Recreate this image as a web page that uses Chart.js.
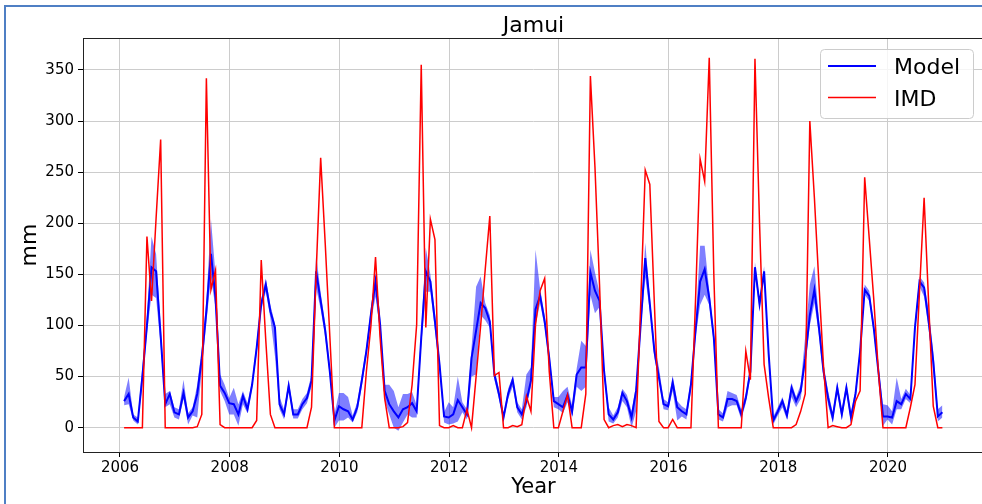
<!DOCTYPE html>
<html>
<head>
<meta charset="utf-8">
<title>Jamui</title>
<script src="https://cdn.jsdelivr.net/npm/chart.js@4.4.0/dist/chart.umd.min.js"></script>
<style>
  html, body { margin: 0; padding: 0; background: #fff; overflow: hidden; }
  #wrap { position: relative; width: 982px; height: 504px; overflow: hidden; }
  #chart { position: absolute; left: 0; top: 0; }
  #frame { position: absolute; left: 4px; top: 5px; width: 1100px; height: 700px;
           border: 2px solid #4f7fc4; box-sizing: border-box; pointer-events: none; }
</style>
</head>
<body>
<div id="wrap">
  <canvas id="chart" width="986" height="504"></canvas>
  <div id="frame"></div>
</div>
<script>
// monthly series, Jan 2006 .. Dec 2020 (one row per year)
const startYear = 2006;

const imd = [
  0, 0, 0, 0, 0, 187, 124, 205, 282, 0, 0, 0,
  0, 0, 0, 0, 1, 13, 342, 135, 154, 3, 0, 0,
  0, 0, 0, 0, 0, 7, 164, 85, 13, 0, 0, 0,
  0, 0, 0, 0, 0, 20, 150, 264, 180, 90, 0, 0,
  0, 0, 0, 0, 0, 55, 100, 167, 88, 29, 0, 0,
  0, 1, 5, 42, 101, 355, 98, 204, 184, 2, 0, 0,
  2, 0, 0, 18, 0, 50, 100, 155, 207, 51, 54, 0,
  0, 2, 1, 3, 31, 16, 101, 134, 146, 55, 0, 0,
  16, 32, 0, 0, 0, 33, 344, 255, 140, 8, 0, 2,
  3, 1, 3, 2, 0, 120, 252, 238, 121, 6, 0, 0,
  8, 0, 0, 0, 0, 125, 263, 241, 362, 150, 0, 0,
  0, 0, 0, 0, 75, 47, 361, 200, 62, 29, 0, 0,
  0, 0, 0, 3, 16, 33, 300, 225, 140, 60, 0, 2,
  1, 0, 0, 3, 26, 36, 245, 185, 125, 55, 0, 0,
  0, 0, 0, 0, 20, 42, 134, 225, 121, 21, 0, 0
];

const model = [
  26, 33, 10, 6, 50, 100, 157, 153, 90, 23, 33, 15,
  13, 34, 10, 16, 33, 68, 114, 170, 127, 41, 34, 24,
  23, 13, 31, 18, 42, 78, 121, 140, 114, 98, 23, 13,
  41, 13, 13, 23, 29, 46, 153, 124, 95, 55, 7, 21,
  18, 16, 8, 20, 46, 75, 111, 143, 101, 36, 23, 16,
  10, 18, 20, 24, 16, 88, 153, 143, 104, 62, 11, 10,
  13, 27, 20, 13, 68, 95, 122, 117, 104, 52, 33, 10,
  33, 47, 20, 13, 26, 46, 116, 129, 104, 68, 26, 23,
  20, 32, 16, 52, 59, 59, 152, 134, 124, 55, 13, 8,
  15, 34, 26, 10, 36, 101, 166, 121, 75, 49, 23, 21,
  44, 20, 16, 13, 42, 95, 143, 155, 127, 88, 13, 10,
  28, 28, 26, 13, 29, 55, 157, 121, 153, 72, 7, 16,
  26, 12, 39, 26, 36, 68, 110, 135, 98, 55, 29, 10,
  39, 13, 39, 10, 33, 75, 135, 129, 97, 55, 11, 11,
  10, 26, 23, 33, 28, 98, 143, 137, 104, 65, 11, 15
];

const modelLow = [
  22, 23, 7, 3, 42, 92, 130, 127, 80, 20, 23, 10,
  8, 28, 3, 12, 10, 56, 103, 147, 117, 36, 26, 13,
  13, 2, 23, 14, 38, 72, 115, 133, 107, 70, 18, 8,
  36, 9, 9, 18, 24, 40, 137, 116, 88, 50, 0, 7,
  7, 10, 5, 15, 40, 70, 104, 128, 94, 26, 13, 0,
  -3, 5, 13, 10, 10, 80, 133, 133, 95, 55, 5, 3,
  4, 6, 15, 8, 50, 52, 110, 105, 98, 47, 28, 7,
  28, 40, 15, 8, 20, 40, 100, 122, 98, 62, 20, 18,
  14, 25, 10, 40, 36, 40, 130, 112, 118, 50, 6, 4,
  10, 26, 20, 0, 16, 95, 147, 114, 68, 45, 18, 17,
  36, 7, 11, 8, 36, 88, 120, 130, 120, 82, 8, 6,
  20, 22, 22, 8, 24, 50, 150, 116, 148, 66, 3, 12,
  20, 8, 30, 20, 28, 62, 100, 122, 90, 48, 22, 5,
  34, 8, 34, 5, 28, 70, 130, 124, 92, 50, 2, 8,
  3, 18, 18, 28, 24, 92, 138, 128, 96, 55, 6, 10
];

const modelHigh = [
  30, 49, 13, 10, 60, 110, 187, 170, 100, 33, 36, 20,
  18, 47, 14, 20, 42, 78, 124, 204, 150, 52, 42, 29,
  39, 23, 36, 24, 46, 84, 126, 146, 120, 102, 30, 18,
  46, 18, 18, 28, 34, 52, 170, 132, 102, 60, 13, 34,
  34, 30, 12, 25, 52, 80, 118, 150, 108, 42, 42, 36,
  20, 33, 33, 35, 22, 96, 176, 150, 112, 68, 15, 25,
  20, 50, 25, 18, 78, 138, 148, 122, 110, 57, 38, 13,
  38, 50, 25, 18, 52, 59, 174, 136, 110, 74, 30, 30,
  36, 40, 22, 58, 85, 80, 174, 152, 132, 60, 20, 12,
  20, 38, 32, 16, 42, 108, 181, 128, 82, 59, 28, 25,
  51, 26, 21, 18, 48, 102, 178, 178, 134, 94, 18, 14,
  36, 34, 32, 18, 34, 60, 162, 126, 158, 78, 11, 20,
  30, 16, 44, 30, 42, 90, 140, 158, 106, 62, 36, 15,
  44, 18, 44, 15, 38, 80, 140, 134, 102, 60, 23, 22,
  16, 49, 28, 38, 32, 104, 148, 142, 115, 75, 18, 22
];

const xTicks = [2006, 2008, 2010, 2012, 2014, 2016, 2018, 2020];
const yTicks = [0, 50, 100, 150, 200, 250, 300, 350];

const family = '"DejaVu Sans", sans-serif';
const months = model.map((_, i) => startYear + (i + 0.9) / 12);
const pts = arr => arr.map((v, i) => ({ x: months[i], y: v }));

// draws the top/right spines and the boxed legend inside the plot
const boxAndLegend = {
  id: 'boxAndLegend',
  afterDatasetsDraw(chart) {
    const { ctx, chartArea: a } = chart;
    ctx.save();
    ctx.strokeStyle = '#222';
    ctx.lineWidth = 1;
    ctx.strokeRect(a.left + 0.5, a.top + 0.5, a.right - a.left, a.bottom - a.top);
    ctx.restore();
  },
  afterDraw(chart) {
    const { ctx, chartArea: a } = chart;
    const lx = a.right - 164, ly = a.top + 11;
    ctx.save();
    ctx.fillStyle = 'rgba(255,255,255,0.8)';
    ctx.strokeStyle = '#cccccc';
    ctx.lineWidth = 1;
    ctx.beginPath();
    ctx.roundRect(lx + 0.5, ly + 0.5, 153, 69, 4);
    ctx.fill();
    ctx.stroke();
    const items = chart.data.datasets.filter(d => d.showInLegend);
    items.forEach((d, i) => {
      const y = ly + 17 + i * 31.5;
      ctx.strokeStyle = d.borderColor;
      ctx.lineWidth = d.borderWidth;
      ctx.beginPath();
      ctx.moveTo(lx + 8, y);
      ctx.lineTo(lx + 56, y);
      ctx.stroke();
      ctx.fillStyle = '#000';
      ctx.font = '22px ' + family;
      ctx.textBaseline = 'alphabetic';
      ctx.fillText(d.label, lx + 74, y + 8);
    });
    ctx.restore();
  }
};

new Chart(document.getElementById('chart'), {
  type: 'line',
  data: {
    datasets: [
      { label: 'low', data: pts(modelLow), borderWidth: 0, pointRadius: 0, fill: false, order: 2 },
      { label: 'high', data: pts(modelHigh), borderWidth: 0, pointRadius: 0,
        fill: '-1', backgroundColor: 'rgba(0,0,255,0.5)', order: 2 },
      { label: 'Model', data: pts(model), borderColor: '#0000ff', borderWidth: 2,
        pointRadius: 0, tension: 0, fill: false, order: 1, showInLegend: true },
      { label: 'IMD', data: pts(imd), borderColor: '#ff0000', borderWidth: 1.5,
        pointRadius: 0, tension: 0, fill: false, order: 0, showInLegend: true }
    ]
  },
  options: {
    responsive: false,
    animation: false,
    devicePixelRatio: 1,
    layout: { padding: { left: 0, top: 0, right: 2, bottom: 0 } },
    plugins: {
      legend: { display: false },
      tooltip: { enabled: false },
      title: {
        display: true, text: 'Jamui', fullSize: false, color: '#000',
        font: { family, size: 22, weight: 'normal', lineHeight: 1 },
        padding: { top: 15, bottom: 1 }
      }
    },
    scales: {
      x: {
        type: 'linear', min: 2005.326, max: 2021.75,
        afterBuildTicks: s => { s.ticks = xTicks.map(v => ({ value: v })); },
        afterFit: s => { s.height = 52; },
        ticks: { color: '#000', font: { family, size: 15 }, padding: 2,
                 maxRotation: 0, autoSkip: false, callback: v => String(v) },
        grid: { color: '#cccccc', lineWidth: 1, tickLength: 5, tickColor: '#000' },
        border: { display: false },
        title: { display: true, text: 'Year', color: '#000',
                 font: { family, size: 21 }, padding: { top: 0, bottom: 4 } }
      },
      y: {
        min: -23.8, max: 381.3,
        afterBuildTicks: s => { s.ticks = yTicks.map(v => ({ value: v })); },
        afterFit: s => { s.width = 83; },
        ticks: { color: '#000', font: { family, size: 15 }, padding: 4 },
        grid: { color: '#cccccc', lineWidth: 1, tickLength: 5, tickColor: '#000' },
        border: { display: false },
        title: { display: true, text: 'mm', color: '#000',
                 font: { family, size: 22 }, padding: { top: 17, bottom: 0 } }
      }
    }
  },
  plugins: [boxAndLegend]
});
</script>
</body>
</html>
